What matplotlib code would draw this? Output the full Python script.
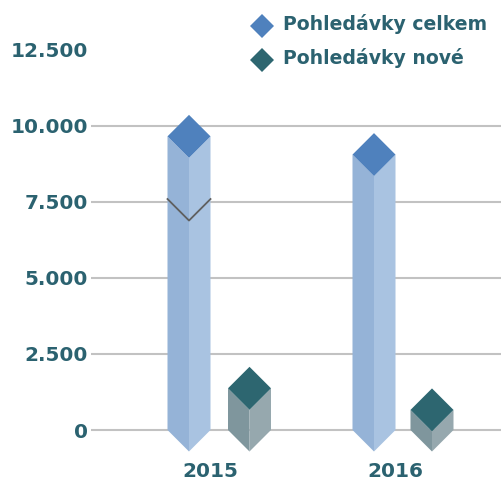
import matplotlib
matplotlib.use("Agg")
from matplotlib import pyplot as plt
from matplotlib.patches import Polygon

years = ["2015", "2016"]
celkem = [9650, 9050]
nove = [1370, 660]
series_names = ["Pohledávky celkem", "Pohledávky nové"]
y_ticks = [0, 2500, 5000, 7500, 10000, 12500]
y_labels = ["0", "2.500", "5.000", "7.500", "10.000", "12.500"]

text_col = "#2b6270"
grid_col = "#c2c2c2"
celkem_cols = ("#95b3d7", "#a9c3e1", "#4f81bd")
nove_cols = ("#7f969d", "#96a8ae", "#2d6670")

W, H = 502, 486
fig = plt.figure(figsize=(W / 100, H / 100), dpi=100)
# axes spans gridline area; y pixel 430 -> 0, ~30.43 px per 1000
px_per_unit = 30.43 / 1000
x0, x1 = 91, 502
ax = fig.add_axes([x0 / W, 0, (x1 - x0) / W, 1])
ax.set_ylim(-(H - 430) / px_per_unit, 430 / px_per_unit)
step = 185.0  # pixels between category centres
ax.set_xlim(-(210 - x0) / step, (x1 - 210) / step)
for s in ax.spines.values():
    s.set_visible(False)

# gridlines (none at 12500)
for t in y_ticks[:-1]:
    ax.axhline(t, color=grid_col, lw=1.5, zorder=1)

ax.set_yticks(y_ticks)
ax.set_yticklabels(y_labels)
ax.tick_params(axis="y", length=0, pad=2, labelsize=14.4, labelcolor=text_col)
ax.set_xticks([])
for lab in ax.get_yticklabels():
    lab.set_fontweight("bold")

hw = 21.5 / step          # half width of a pillar in x units
d = 21.5 / px_per_unit    # depth offset in y units


def pillar(cx, v, cols):
    left, right, top = cols
    ax.add_patch(Polygon([(cx - hw, 0), (cx, -d), (cx, v - d), (cx - hw, v)],
                         closed=True, fc=left, ec="none", zorder=3))
    ax.add_patch(Polygon([(cx, -d), (cx + hw, 0), (cx + hw, v), (cx, v - d)],
                         closed=True, fc=right, ec="none", zorder=3))
    ax.add_patch(Polygon([(cx - hw, v), (cx, v + d), (cx + hw, v), (cx, v - d)],
                         closed=True, fc=top, ec="none", zorder=4))


off_a = -21 / step
off_b = [39.5 / step, 37 / step]
for i, yr in enumerate(years):
    pillar(i + off_a, celkem[i], celkem_cols)
    pillar(i + off_b[i], nove[i], nove_cols)
    ax.text(i, -1540, yr, ha="center", va="baseline", fontsize=14.4,
            fontweight="bold", color=text_col)

# odd V-shaped line through the 2015 pillar
vy = 7590
ax.plot([off_a - hw, off_a, off_a + hw], [vy, vy - d, vy], color="#5f5f5f",
        lw=1.3, zorder=5)

# legend
for k, (name, col) in enumerate(zip(series_names, [celkem_cols[2], nove_cols[2]])):
    yc = 1 - (26.5 + 33.5 * k) / H
    fig.lines.append(plt.Line2D([262 / W], [yc], marker="D", ms=12.5, mew=0,
                                color=col, transform=fig.transFigure))
    fig.text(283 / W, 1 - (30 + 34.5 * k) / H, name, ha="left", va="baseline",
             fontsize=13.6, fontweight="bold", color=text_col)

fig.savefig("out.png", dpi=100)
